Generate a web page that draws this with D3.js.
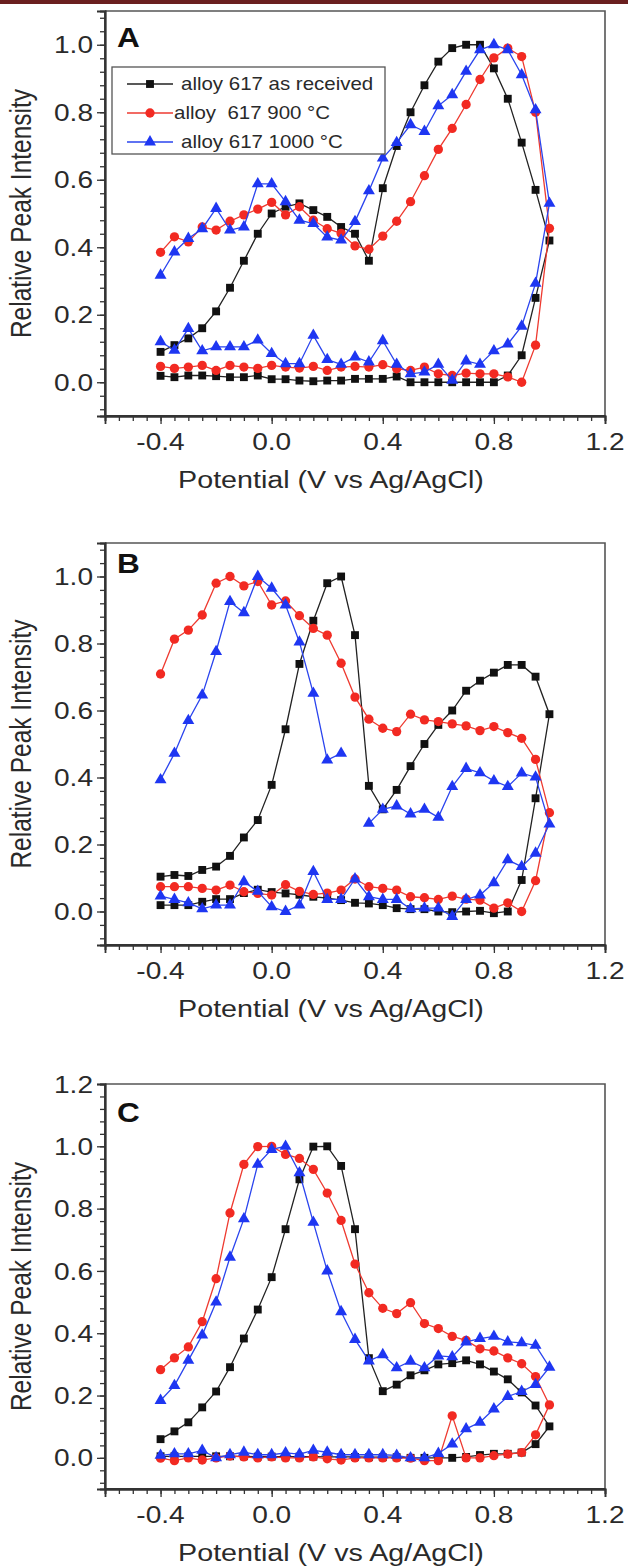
<!DOCTYPE html>
<html><head><meta charset="utf-8">
<script src="https://cdn.jsdelivr.net/npm/d3@7"></script>
<style>body{margin:0;background:#fff}svg{display:block}text{font-family:"Liberation Sans",Arial,Helvetica,sans-serif;white-space:pre}</style>
</head><body>
<script>
// Potential path: forward scan -0.4 -> 1.0, then reverse 0.95 -> -0.4
const potential = [-0.4,-0.35,-0.3,-0.25,-0.2,-0.15,-0.1,-0.05,0,0.05,0.1,0.15,0.2,0.25,0.3,0.35,0.4,0.45,0.5,0.55,0.6,0.65,0.7,0.75,0.8,0.85,0.9,0.95,1.0,
  0.95,0.9,0.85,0.8,0.75,0.7,0.65,0.6,0.55,0.5,0.45,0.4,0.35,0.3,0.25,0.2,0.15,0.1,0.05,0,-0.05,-0.1,-0.15,-0.2,-0.25,-0.3,-0.35,-0.4];

const seriesNames = ["alloy 617 as received", "alloy  617 900 °C", "alloy 617 1000 °C"];

// Panel A
const A_received = [0.09,0.11,0.13,0.16,0.21,0.28,0.36,0.44,0.50,0.52,0.53,0.51,0.49,0.46,0.44,0.36,0.575,0.70,0.80,0.88,0.95,0.99,1.0,1.0,0.93,0.84,0.71,0.57,0.42,
  0.25,0.08,0.02,0.0,0.0,0.0,0.0,0.0,0.0,0.0,0.017,0.01,0.01,0.01,0.005,0.005,0.003,0.005,0.009,0.009,0.02,0.015,0.015,0.018,0.02,0.02,0.015,0.019];
const A_900 = [0.385,0.431,0.416,0.46,0.451,0.477,0.496,0.513,0.533,0.496,0.52,0.48,0.455,0.441,0.404,0.394,0.433,0.477,0.535,0.612,0.69,0.752,0.823,0.897,0.961,0.99,0.965,0.80,0.456,
  0.11,0.0,0.016,0.025,0.025,0.027,0.02,0.025,0.045,0.035,0.04,0.052,0.045,0.047,0.045,0.035,0.047,0.042,0.045,0.05,0.041,0.045,0.05,0.035,0.05,0.045,0.041,0.047];
const A_1000 = [0.317,0.386,0.426,0.455,0.515,0.451,0.46,0.588,0.588,0.535,0.48,0.47,0.43,0.421,0.476,0.567,0.664,0.71,0.763,0.743,0.819,0.852,0.921,0.985,1.0,0.985,0.911,0.807,0.53,
  0.293,0.166,0.113,0.093,0.053,0.063,0.006,0.053,0.03,0.025,0.053,0.123,0.06,0.075,0.053,0.067,0.139,0.055,0.055,0.085,0.125,0.105,0.105,0.105,0.093,0.159,0.095,0.12];

// Panel B
const B_received = [0.104,0.109,0.106,0.124,0.134,0.166,0.221,0.273,0.378,0.544,0.739,0.868,0.98,1.0,0.825,0.375,0.305,0.363,0.434,0.5,0.557,0.6,0.659,0.689,0.713,0.736,0.736,0.701,0.589,
  0.338,0.094,0.0,-0.005,0.002,0.0,-0.002,0.0,0.007,0.007,0.01,0.019,0.024,0.026,0.034,0.04,0.044,0.05,0.054,0.058,0.065,0.055,0.037,0.037,0.029,0.019,0.019,0.019];
const B_900 = [0.709,0.813,0.84,0.885,0.98,1.0,0.972,0.985,0.915,0.927,0.883,0.845,0.825,0.741,0.64,0.574,0.547,0.537,0.589,0.572,0.567,0.56,0.554,0.54,0.552,0.534,0.517,0.454,0.295,
  0.092,0.0,0.026,0.01,0.034,0.037,0.046,0.036,0.041,0.044,0.064,0.069,0.074,0.097,0.064,0.055,0.051,0.06,0.08,0.049,0.054,0.059,0.079,0.064,0.069,0.074,0.074,0.074];
const B_1000 = [0.393,0.472,0.57,0.646,0.776,0.925,0.892,1.0,0.965,0.915,0.804,0.651,0.452,0.472,null,0.263,0.305,0.315,0.291,0.305,0.281,0.373,0.427,0.414,0.39,0.373,0.413,0.401,0.261,
  0.174,0.134,0.154,0.086,0.049,0.036,-0.015,0.01,0.01,0.008,0.036,0.036,0.044,0.097,0.036,0.036,0.119,0.019,0.0,0.014,0.06,0.089,0.019,0.019,0.008,0.026,0.036,0.046];

// Panel C
const C_received = [0.06,0.085,0.114,0.162,0.213,0.291,0.383,0.476,0.58,0.734,0.894,0.999,1.0,0.937,0.734,0.32,0.214,0.235,0.265,0.281,0.3,0.304,0.313,0.3,0.277,0.252,0.21,0.168,0.101,
  0.044,0.017,0.013,0.013,0.009,0.003,0.0,0.0,0.0,0.0,0.002,0.002,0.002,0.003,0.003,0.003,0.004,0.004,0.004,0.004,0.004,0.005,0.005,0.005,0.005,0.005,0.005,0.005];
const C_900 = [0.283,0.321,0.356,0.437,0.575,0.786,0.942,0.999,1.0,0.974,0.961,0.926,0.85,0.762,0.622,0.53,0.48,0.463,0.498,0.431,0.415,0.39,0.377,0.35,0.343,0.321,0.302,0.261,0.17,
  0.074,0.017,0.012,0.007,0.0,0.0,0.135,-0.009,-0.009,-0.001,0.0,0.0,0.0,0.0,-0.007,-0.003,0.003,0.0,0.0,0.003,0.0,0.003,0.006,0.0,-0.007,0.0,-0.009,-0.001];
const C_1000 = [0.184,0.232,0.313,0.394,0.50,0.644,0.767,0.942,0.99,1.0,0.915,0.756,0.6,0.469,0.38,0.311,0.331,0.289,0.31,0.289,0.327,0.324,0.372,0.383,0.39,0.372,0.369,0.361,0.291,
  0.235,0.213,0.197,0.157,0.114,0.093,0.044,0.014,0.0,0.0,0.008,0.01,0.01,0.01,0.01,0.018,0.024,0.012,0.016,0.01,0.01,0.018,0.01,0.0,0.024,0.013,0.013,0.008];

const xTickValues = [-0.4, 0, 0.4, 0.8, 1.2];
const xTickLabels = ["-0.4", "0.0", "0.4", "0.8", "1.2"];
const yTickValuesAB = [0, 0.2, 0.4, 0.6, 0.8, 1.0];
const yTickLabelsAB = ["0.0", "0.2", "0.4", "0.6", "0.8", "1.0"];
const yTickValuesC = [0, 0.2, 0.4, 0.6, 0.8, 1.0, 1.2];
const yTickLabelsC = ["0.0", "0.2", "0.4", "0.6", "0.8", "1.0", "1.2"];
const panelLetters = ["A", "B", "C"];
const xTitle = "Potential (V vs Ag/AgCl)";
const yTitle = "Relative Peak Intensity";

// ---------- drawing ----------
const W = 628, H = 1567, SX = 1.17;
const colors = ["#111111", "#f22a22", "#1e36f2"];
const lineColors = ["#222222", "#ee3a30", "#2a44ee"];
const symbols = [d3.symbolSquare, d3.symbolCircle, d3.symbolTriangle];
const symSizes = [62, 68, 62];

const panels = [
  {letter: panelLetters[0], top: 11, bottom: 416, yDomain: [-0.1, 1.1], yTicks: yTickValuesAB, yLabels: yTickLabelsAB, series: [A_received, A_900, A_1000], legend: true, letterY: 47},
  {letter: panelLetters[1], top: 543, bottom: 945, yDomain: [-0.1, 1.1], yTicks: yTickValuesAB, yLabels: yTickLabelsAB, series: [B_received, B_900, B_1000], legend: false, letterY: 573},
  {letter: panelLetters[2], top: 1084, bottom: 1489, yDomain: [-0.1, 1.2], yTicks: yTickValuesC, yLabels: yTickLabelsC, series: [C_received, C_900, C_1000], legend: false, letterY: 1122}
];
const left = 105, right = 605;

const svg = d3.select("body").append("svg").attr("width", W).attr("height", H);
svg.append("rect").attr("x", 0).attr("y", 0).attr("width", W).attr("height", 4).attr("fill", "#6a1f1f");

function txt(g, x, y, s, opts = {}) {
  const t = g.append("text")
    .attr("transform", `translate(${x},${y}) scale(${SX},1)` + (opts.rotate ? ` rotate(${opts.rotate})` : ""))
    .attr("font-size", opts.size || 24)
    .attr("fill", opts.fill || "#2a2a2a")
    .attr("text-anchor", opts.anchor || "start")
    .text(s);
  if (opts.weight) t.attr("font-weight", opts.weight);
  if (opts.dy) t.attr("dy", opts.dy);
  return t;
}

panels.forEach(p => {
  const x = d3.scaleLinear().domain([-0.6, 1.2]).range([left, right]);
  const y = d3.scaleLinear().domain(p.yDomain).range([p.bottom, p.top]);
  const g = svg.append("g");

  // frame top/right
  g.append("path").attr("d", `M${left},${p.top}H${right}V${p.bottom}`)
    .attr("fill", "none").attr("stroke", "#555").attr("stroke-width", 1.6);

  // minor ticks
  const xMinor = d3.range(-0.6, 1.2 + 1e-9, 0.05);
  const yMinor = d3.range(-0.08, p.yDomain[1] + 1e-9, 0.04);
  const xAxisMinor = d3.axisBottom(x).tickValues(xMinor).tickSize(5).tickFormat("");
  const yAxisMinor = d3.axisLeft(y).tickValues(yMinor).tickSize(5).tickFormat("");
  g.append("g").attr("transform", `translate(0,${p.bottom})`).call(xAxisMinor);
  g.append("g").attr("transform", `translate(${left},0)`).call(yAxisMinor);
  // major ticks
  const xAxis = d3.axisBottom(x).tickValues(xTickValues).tickSize(8).tickFormat("");
  const yAxis = d3.axisLeft(y).tickValues(p.yTicks).tickSize(8).tickFormat("");
  g.append("g").attr("transform", `translate(0,${p.bottom})`).call(xAxis);
  g.append("g").attr("transform", `translate(${left},0)`).call(yAxis);
  g.selectAll(".domain").attr("stroke", "#333").attr("stroke-width", 1.8);
  g.selectAll(".tick line").attr("stroke", "#333").attr("stroke-width", 1.3);
  // axis lines (full length)
  g.append("path").attr("d", `M${left},${p.top}V${p.bottom}H${right}`).attr("fill", "none").attr("stroke", "#333").attr("stroke-width", 1.8);

  // tick labels
  xTickValues.forEach((v, i) => txt(g, x(v), p.bottom + 34, xTickLabels[i], {anchor: "middle", size: 24}));
  p.yTicks.forEach((v, i) => txt(g, 93, y(v), p.yLabels[i], {anchor: "end", size: 24, dy: "0.36em"}));

  // titles
  txt(g, 331, p.bottom + 72, xTitle, {anchor: "middle", size: 24.5});
  txt(g, 31, (p.top + p.bottom) / 2, yTitle, {anchor: "middle", size: 24.5, rotate: -90});

  // panel letter
  txt(g, 117, p.letterY, p.letter, {size: 27, weight: "bold", fill: "#111"});

  // series
  const line = d3.line().defined(d => d[1] != null).x(d => x(d[0])).y(d => y(d[1]));
  p.series.forEach((vals, si) => {
    const pts = potential.map((v, i) => [v, vals[i]]);
    g.append("path").attr("d", line(pts)).attr("fill", "none")
      .attr("stroke", lineColors[si]).attr("stroke-width", 1.3);
    g.selectAll(null).data(pts.filter(d => d[1] != null)).enter().append("path")
      .attr("d", d3.symbol().type(symbols[si]).size(symSizes[si]))
      .attr("transform", d => `translate(${x(d[0])},${y(d[1])})`)
      .attr("fill", colors[si]);
  });

  if (p.legend) {
    const lg = g.append("g");
    lg.append("rect").attr("x", 112).attr("y", 67).attr("width", 273).attr("height", 87)
      .attr("fill", "#fff").attr("stroke", "#555").attr("stroke-width", 1.3);
    const rowsY = [84, 113, 142];
    const textX = [181, 174, 181];
    seriesNames.forEach((name, si) => {
      lg.append("line").attr("x1", 127).attr("x2", 173).attr("y1", rowsY[si]).attr("y2", rowsY[si])
        .attr("stroke", lineColors[si]).attr("stroke-width", 1.3);
      lg.append("path").attr("d", d3.symbol().type(symbols[si]).size(symSizes[si]))
        .attr("transform", `translate(150,${rowsY[si]})`).attr("fill", colors[si]);
      txt(lg, textX[si], rowsY[si], name, {size: 17.5, dy: "0.36em"});
    });
  }
});
</script>
</body></html>
